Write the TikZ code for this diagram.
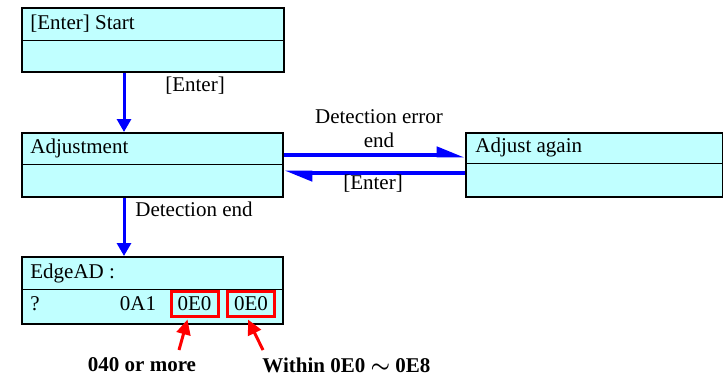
\documentclass[tikz,border=0pt]{standalone}
\usepackage{fontspec}
\setmainfont{Liberation Serif}
\usetikzlibrary{arrows.meta,calc}
\definecolor{panelcyan}{HTML}{C0FFFF}
\definecolor{flowblue}{HTML}{0000FF}
\definecolor{markred}{HTML}{FF0000}

\begin{document}
\begin{tikzpicture}[x=0.5pt, y=-0.5pt,
  font=\fontsize{10.5}{12}\selectfont,
  panel/.style={draw=black, line width=1pt, fill=panelcyan, anchor=north west,
                minimum width=130.5pt, minimum height=32pt, inner sep=0pt},
  paneltext/.style={anchor=west, inner sep=0pt},
  flow/.style={draw=flowblue, line width=1.5pt, -{Triangle[length=6.5pt, width=7pt]}},
  harp/.style={draw=flowblue, line width=2.3pt, -{Triangle[harpoon, length=11pt, width=8pt]}},
  pointer/.style={draw=markred, line width=1.5pt, -{Triangle[length=7.5pt, width=7pt]}},
  valbox/.style={draw=markred, line width=1.5pt, minimum width=23.5pt, minimum height=12.5pt, inner sep=0pt},
  note/.style={font=\fontsize{10.5}{12}\selectfont\bfseries}
]
  \useasboundingbox (0,0) rectangle (723,376);

  % Panels
  \node[panel, minimum width=131pt] (start) at (21,7) {};
  \node[panel] (adjust) at (21,132) {};
  \node[panel, minimum width=128.5pt] (again) at (465,132) {};
  \node[panel, minimum height=33.5pt] (edge) at (21,256) {};

  % Row dividers
  \draw[line width=0.5pt] ($(start.north west)+(0,33)$) -- ($(start.north east)+(0,33)$);
  \draw[line width=0.5pt] ($(adjust.north west)+(0,32)$) -- ($(adjust.north east)+(0,32)$);
  \draw[line width=0.5pt] ($(again.north west)+(0,31)$) -- ($(again.north east)+(0,31)$);
  \draw[line width=0.5pt] ($(edge.north west)+(0,33)$) -- ($(edge.north east)+(0,33)$);

  % Panel texts
  \node[paneltext] (starttxt) at ($(start.north west)+(9,17)$) {[Enter] Start};
  \node[paneltext] (adjusttxt) at ($(adjust.north west)+(9,16)$) {Adjustment};
  \node[paneltext] (againtxt) at ($(again.north west)+(10,15)$) {Adjust again};
  \node[paneltext] (edgetxt) at ($(edge.north west)+(9,17)$) {EdgeAD :};
  \node[paneltext] (qmark) at ($(edge.north west)+(9,48)$) {?};
  \node (raw) at (138,303.5) {0A1};
  \node[valbox] (valA) at (194.5,303.5) {0E0};
  \node[valbox] (valB) at (251,303.5) {0E0};

  % Flow arrows
  \draw[flow] ($(start.south west)+(103,0)$) -- ($(adjust.north west)+(103,0)$);
  \node (enter1) at (195,86) {[Enter]};
  \draw[harp] ($(adjust.north east)+(0,23)$) -- ($(again.north west)+(0,23)$);
  \node[align=center] (errend) at (379,129) {Detection error\\end};
  \draw[harp] ($(again.north west)+(0,41)$) -- ($(adjust.north east)+(0,41)$);
  \node (enter2) at (373,184) {[Enter]};
  \draw[flow] ($(adjust.south west)+(103,0)$) -- ($(edge.north west)+(103,0)$);
  \node (detend) at (194,209) {Detection end};

  % Notes
  \node[note] (noteA) at (142,365) {040 or more};
  \node[note, anchor=west, inner sep=0pt] (noteB) at (262,365) {Within 0E0 {\boldmath$\sim$} 0E8};
  \coordinate (tailA) at (179,350);
  \coordinate (tailB) at (263,350);
  \draw[pointer] (tailA) -- ($(valA.south)+(-7,2)$);
  \draw[pointer] (tailB) -- ($(valB.south)+(-3,2)$);
\end{tikzpicture}
\end{document}
